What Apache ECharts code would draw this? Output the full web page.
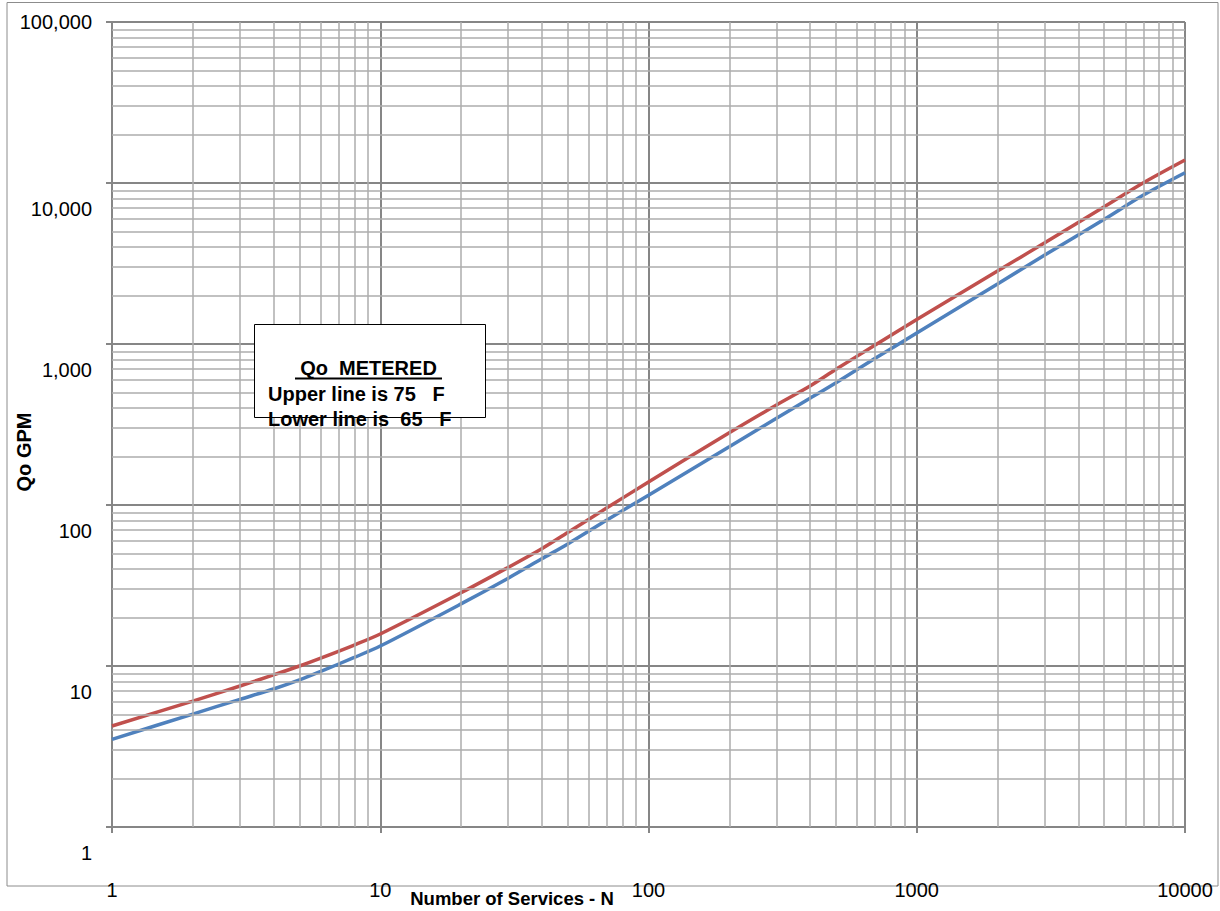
<!DOCTYPE html>
<html>
<head>
<meta charset="utf-8">
<script src="https://cdn.jsdelivr.net/npm/echarts@6/dist/echarts.min.js"></script>
<style>
html,body{margin:0;padding:0;background:#fff;}
#chart{width:1220px;height:911px;}
</style>
</head>
<body>
<div id="chart"></div>
<script>
// Number of services (x)
const services = [1, 2, 3, 4, 5, 6, 8, 10, 20, 30, 40, 50, 70, 100, 200, 300, 400, 500, 700, 1000, 2000, 3000, 5000, 7000, 10000];
// Upper line, 75 F (Qo GPM)
const qo75 = [4.24, 6.05, 7.51, 8.8, 10.0, 11.2, 13.5, 15.8, 28.5, 41.0, 53.5, 67.5, 96, 139, 281, 418, 548, 696, 986, 1420, 2840, 4256, 7130, 10040, 13900];
// Lower line, 65 F (Qo GPM)
const qo65 = [3.50, 5.03, 6.21, 7.2, 8.2, 9.25, 11.3, 13.3, 24.3, 35.1, 46.3, 57.3, 80.7, 115, 230, 346, 460, 575, 815, 1170, 2360, 3570, 5950, 8420, 11590];

const xTickLabels = ['1', '10', '100', '1000', '10000'];
const yTickLabels = ['1', '10', '100', '1,000', '10,000', '100,000'];

const legendTitle = 'Qo  METERED';
const legendUpper = 'Upper line is 75   F';
const legendLower = 'Lower line is  65   F';
const xTitle = 'Number of Services - N';
const yTitle = 'Qo GPM';

const FONT = '"Liberation Sans", Arial, sans-serif';
const MAJOR = '#868686';
const MINOR = '#adadad';

// minor gridline positions (2..9 within each decade)
const xMinor = [];
for (let d = 1; d < 10000; d *= 10) for (let k = 2; k <= 9; k++) xMinor.push(k * d);
const yMinor = [];
for (let d = 1; d < 100000; d *= 10) for (let k = 2; k <= 9; k++) yMinor.push(k * d);

const chart = echarts.init(document.getElementById('chart'), null, {renderer: 'svg'});

chart.setOption({
  animation: false,
  backgroundColor: '#ffffff',
  grid: {left: 112, top: 22, right: 35, bottom: 84, containLabel: false},
  xAxis: {
    type: 'log', logBase: 10, min: 1, max: 10000,
    axisLine: {show: true, lineStyle: {color: MAJOR, width: 2}},
    axisTick: {show: true, length: 6, lineStyle: {color: MAJOR, width: 2}},
    splitLine: {show: true, lineStyle: {color: MAJOR, width: 2}},
    axisLabel: {
      show: true, margin: 53, color: '#000', fontSize: 20, fontFamily: FONT,
      showMinLabel: true, showMaxLabel: true,
      formatter: v => xTickLabels[Math.round(Math.log10(v))]
    }
  },
  yAxis: {
    type: 'log', logBase: 10, min: 1, max: 100000,
    axisLine: {show: true, lineStyle: {color: MAJOR, width: 2}},
    axisTick: {show: true, length: 6, lineStyle: {color: MAJOR, width: 2}},
    splitLine: {show: true, lineStyle: {color: MAJOR, width: 2}},
    axisLabel: {
      show: true, margin: 20, color: '#000', fontSize: 20, fontFamily: FONT,
      showMinLabel: true, showMaxLabel: true,
      formatter: v => {
        const i = Math.round(Math.log10(v));
        return i === 5 ? '{t|' + yTickLabels[i] + '}' : '{s|' + yTickLabels[i] + '}';
      },
      rich: {
        s: {fontSize: 20, fontFamily: FONT, color: '#000', padding: [52, 0, 0, 0]},
        t: {fontSize: 20, fontFamily: FONT, color: '#000'}
      }
    }
  },
  series: [
    {
      type: 'line', name: 'minor grid', data: [], silent: true, z: 1,
      markLine: {
        silent: true, symbol: ['none', 'none'], animation: false,
        label: {show: false},
        lineStyle: {color: MINOR, width: 1.5, type: 'solid'},
        emphasis: {disabled: true},
        data: xMinor.map(v => ({xAxis: v})).concat(yMinor.map(v => ({yAxis: v})))
      }
    },
    {
      type: 'line', name: '75 F', z: 4, smooth: 0.3, showSymbol: false,
      lineStyle: {color: '#C0504D', width: 3.5}, itemStyle: {color: '#C0504D'},
      data: services.map((n, i) => [n, qo75[i]])
    },
    {
      type: 'line', name: '65 F', z: 4, smooth: 0.3, showSymbol: false,
      lineStyle: {color: '#4F81BD', width: 3.5}, itemStyle: {color: '#4F81BD'},
      data: services.map((n, i) => [n, qo65[i]])
    }
  ],
  graphic: [
    {type: 'rect', z: -10, silent: true, shape: {x: 7, y: 2.5, width: 1211, height: 883.5},
     style: {fill: 'none', stroke: '#8c8c8c', lineWidth: 1}},
    {type: 'text', z: 10, x: 512, y: 898,
     style: {text: xTitle, font: 'bold 18.5px ' + FONT, fill: '#000', textAlign: 'center', textVerticalAlign: 'middle'}},
    {type: 'text', z: 10, x: 24, y: 452, rotation: Math.PI / 2,
     style: {text: yTitle, font: 'bold 20px ' + FONT, fill: '#000', textAlign: 'center', textVerticalAlign: 'middle'}},
    {type: 'rect', z: 20, shape: {x: 254.5, y: 324.5, width: 231, height: 93},
     style: {fill: '#ffffff', stroke: '#000000', lineWidth: 1}},
    {type: 'text', z: 21, x: 368.5, y: 368,
     style: {text: legendTitle, font: 'bold 20px ' + FONT, fill: '#000', textAlign: 'center', textVerticalAlign: 'middle'}},
    {type: 'line', z: 21, shape: {x1: 295, y1: 378.5, x2: 442, y2: 378.5},
     style: {stroke: '#000', lineWidth: 2}},
    {type: 'text', z: 21, x: 268, y: 394,
     style: {text: legendUpper, font: 'bold 20px ' + FONT, fill: '#000', textAlign: 'left', textVerticalAlign: 'middle'}},
    {type: 'text', z: 21, x: 268, y: 419,
     style: {text: legendLower, font: 'bold 20px ' + FONT, fill: '#000', textAlign: 'left', textVerticalAlign: 'middle'}}
  ]
});
</script>
</body>
</html>
